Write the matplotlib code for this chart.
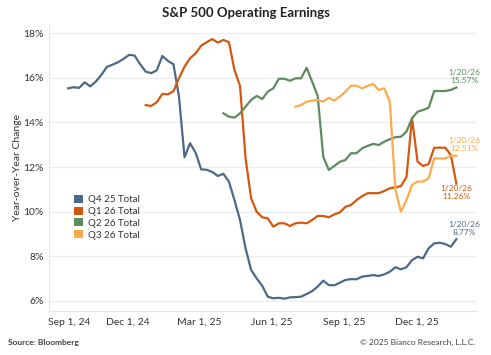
import numpy as np
import pandas as pd
import matplotlib
matplotlib.use("Agg")
import matplotlib.pyplot as plt
import matplotlib.transforms as mtransforms
from matplotlib.patches import Patch

plt.rcParams['font.family'] = ['Lato', 'DejaVu Sans']

# weekly observation dates (Tuesdays), Sep 17, 2024 -> Jan 20, 2026
weeks = pd.date_range('2024-09-17', periods=71, freq='7D')

# year-over-year change, % (each series starts later and runs to the last week)
q4_25 = [15.53, 15.58, 15.55, 15.80, 15.62, 15.83, 16.13, 16.49, 16.59, 16.70,
         16.85, 17.03, 17.00, 16.61, 16.28, 16.21, 16.34, 16.98, 16.76, 16.61,
         15.16, 12.44, 13.07, 12.64, 11.90, 11.88, 11.78, 11.60, 11.70, 11.35,
         10.52, 9.63, 8.36, 7.39, 7.01, 6.68, 6.19, 6.12, 6.14, 6.10,
         6.16, 6.17, 6.19, 6.31, 6.44, 6.64, 6.91, 6.71, 6.70, 6.82,
         6.94, 6.98, 6.97, 7.09, 7.12, 7.16, 7.12, 7.19, 7.31, 7.51,
         7.42, 7.51, 7.83, 7.98, 7.91, 8.36, 8.58, 8.61, 8.55, 8.43, 8.77]
q1_26 = [14.78, 14.74, 14.91, 15.28, 15.26, 15.40, 15.98, 16.50, 16.88, 17.10,
         17.44, 17.60, 17.74, 17.58, 17.70, 17.60, 16.35, 15.64, 12.40, 10.60,
         10.00, 9.75, 9.70, 9.33, 9.48, 9.48, 9.36, 9.48, 9.51, 9.48,
         9.63, 9.81, 9.81, 9.75, 9.88, 9.97, 10.22, 10.30, 10.52, 10.70,
         10.83, 10.83, 10.83, 10.93, 11.05, 11.09, 11.15, 11.55, 14.19, 12.24,
         12.05, 12.14, 12.87, 12.87, 12.87, 12.54, 11.26]
q2_26 = [14.41, 14.26, 14.22, 14.41, 14.71, 15.01, 15.19, 15.05, 15.38, 15.53,
         15.96, 15.96, 15.87, 15.98, 15.98, 16.45, 15.83, 15.19, 12.47, 11.87,
         12.05, 12.24, 12.32, 12.62, 12.62, 12.84, 12.95, 13.04, 12.99, 13.14,
         13.25, 13.34, 13.36, 13.59, 14.19, 14.48, 14.56, 14.66, 15.41, 15.41,
         15.41, 15.46, 15.57]
q3_26 = [14.71, 14.78, 14.93, 14.98, 15.01, 14.93, 15.11, 14.98, 15.16, 15.38,
         15.65, 15.65, 15.53, 15.64, 15.73, 15.46, 15.53, 14.93, 11.00, 10.00,
         10.52, 11.20, 11.35, 11.35, 11.50, 12.39, 12.39, 12.39, 12.51, 12.51]

names = ['Q4 25 Total', 'Q1 26 Total', 'Q2 26 Total', 'Q3 26 Total']
series = [q4_25, q1_26, q2_26, q3_26]
colors = ['#4c6a88', '#d3580f', '#5e8c5f', '#fbab4d']

# end-of-line labels: (x offset in points, y offset in points)
end_offsets = [(5.5, 2.5), (0, -1), (5.5, 2.5), (5.5, 2.5)]

tick_dates = pd.to_datetime(['2024-09-01', '2024-12-01', '2025-03-01',
                             '2025-06-01', '2025-09-01', '2025-12-01'])
tick_labels = ['Sep 1, 24', 'Dec 1, 24', 'Mar 1, 25', 'Jun 1, 25', 'Sep 1, 25', 'Dec 1, 25']

fig = plt.figure(figsize=(4.91, 3.55), dpi=100)
ax = fig.add_axes([0.0998, 0.124, 0.8717, 0.8056])

for name, vals, col in zip(names, series, colors):
    d = weeks[len(weeks) - len(vals):]
    ax.plot(d, vals, color=col, lw=1.6, solid_joinstyle='round')

for vals, col, (dx, dy) in zip(series, colors, end_offsets):
    ax.annotate('1/20/26\n%.2f%%' % vals[-1], xy=(weeks[-1], vals[-1]),
                xytext=(dx, dy), textcoords='offset points', ha='center',
                va='bottom' if dy > 0 else 'top', fontsize=6, color=col,
                linespacing=1.15)

ax.set_xlim(pd.Timestamp('2024-08-24'), pd.Timestamp('2026-02-15'))
ax.set_ylim(5.55, 18.37)
ax.set_yticks(np.arange(6, 19, 2))
ax.set_yticklabels(['%d%%' % v for v in range(6, 19, 2)])
ax.set_xticks(tick_dates)
ax.set_xticklabels(tick_labels)
ax.tick_params(length=0, labelsize=7.5, labelcolor='#333333', pad=5)
ax.tick_params(axis='y', pad=4)
ax.grid(axis='y', color='#ececec', lw=0.8)
ax.set_axisbelow(True)
for s in ['top', 'right']:
    ax.spines[s].set_visible(False)
for s in ['left', 'bottom']:
    ax.spines[s].set_color('#e4e4e4')
    ax.spines[s].set_linewidth(0.8)

# first tick label sits inside the plot edge
first = ax.get_xticklabels()[0]
first.set_transform(first.get_transform() +
                    mtransforms.ScaledTranslation(10 / 72, 0, fig.dpi_scale_trans))

ax.set_ylabel('Year-over-Year Change', fontsize=7.5, color='#333333', labelpad=0.5)

handles = [Patch(facecolor=c, edgecolor='none') for c in colors]
ax.legend(handles, names, loc='upper left', bbox_to_anchor=(0.039, 0.437),
          frameon=False, fontsize=7, handlelength=0.9, handleheight=0.9,
          handletextpad=0.5, labelspacing=0.25, labelcolor='#333333')

fig.text(0.5, 0.963, 'S&P 500 Operating Earnings', ha='center', va='center',
         fontsize=9.5, fontweight='bold', color='#222222')
fig.text(0.016, 0.034, 'Source: Bloomberg', ha='left', va='center',
         fontsize=6, fontweight='bold', color='#444444')
fig.text(0.968, 0.034, '\u00a9 2025 Bianco Research, L.L.C.', ha='right', va='center',
         fontsize=6, color='#444444')

fig.savefig('out.png', dpi=100)
